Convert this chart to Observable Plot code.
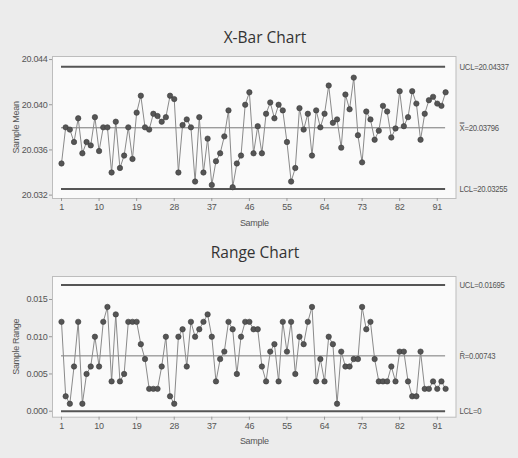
<!DOCTYPE html>
<html><head><meta charset="utf-8">
<script src="https://cdn.jsdelivr.net/npm/d3@7"></script>
<script src="https://cdn.jsdelivr.net/npm/@observablehq/plot@0.6"></script>
<style>
html,body{margin:0;padding:0;background:#ececec;}
#wrap{position:relative;width:518px;height:458px;overflow:hidden;font-family:"Open Sans",sans-serif;color:#444;}
.title{position:absolute;left:0;width:518px;text-align:center;font-size:15.5px;color:#333;z-index:2;}
.panel{position:absolute;left:0;z-index:1;}
</style></head><body>
<div id="wrap">
 <div class="panel" id="p1" style="top:0px"></div>
 <div class="panel" id="p2" style="top:240px"></div>
 <div class="title" style="top:26px;left:6px">X-Bar Chart</div>
 <div class="title" style="top:241px;left:-4px">Range Chart</div>
</div>
<script>
// ---- data ----
const xbarMeans = [
20.0348, 20.0380, 20.0378, 20.0367, 20.0388, 20.0357, 20.0367, 20.0364, 20.0389, 20.0359,
20.0380, 20.0380, 20.0340, 20.0385, 20.0344, 20.0355, 20.0380, 20.0352, 20.0393, 20.0408,
20.0380, 20.0378, 20.0392, 20.0390, 20.0385, 20.0389, 20.0408, 20.0405, 20.0340, 20.0382,
20.0387, 20.0380, 20.0332, 20.0389, 20.0340, 20.0370, 20.0329, 20.0350, 20.0357, 20.0372,
20.0395, 20.0327, 20.0348, 20.0355, 20.0400, 20.0411, 20.0357, 20.0381, 20.0357, 20.0392,
20.0402, 20.0388, 20.0400, 20.0395, 20.0367, 20.0332, 20.0344, 20.0397, 20.0378, 20.0392,
20.0355, 20.0395, 20.0380, 20.0392, 20.0417, 20.0384, 20.0387, 20.0362, 20.0409, 20.0396,
20.0424, 20.0373, 20.0349, 20.0394, 20.0387, 20.0369, 20.0377, 20.0399, 20.0394, 20.0371,
20.0379, 20.0412, 20.0381, 20.0389, 20.0412, 20.0401, 20.0369, 20.0392, 20.0404, 20.0407,
20.0401, 20.0399, 20.0411];
const sampleRanges = [
0.012, 0.002, 0.001, 0.006, 0.012, 0.001, 0.005, 0.006, 0.010, 0.006,
0.012, 0.014, 0.004, 0.013, 0.004, 0.005, 0.012, 0.012, 0.012, 0.009,
0.007, 0.003, 0.003, 0.003, 0.006, 0.010, 0.002, 0.001, 0.010, 0.011,
0.006, 0.012, 0.010, 0.011, 0.012, 0.013, 0.010, 0.004, 0.007, 0.008,
0.012, 0.011, 0.005, 0.010, 0.012, 0.012, 0.011, 0.011, 0.006, 0.004,
0.008, 0.009, 0.004, 0.012, 0.008, 0.012, 0.005, 0.010, 0.009, 0.012,
0.014, 0.004, 0.007, 0.004, 0.010, 0.009, 0.001, 0.008, 0.006, 0.006,
0.007, 0.007, 0.014, 0.011, 0.012, 0.007, 0.004, 0.004, 0.004, 0.006,
0.004, 0.008, 0.008, 0.004, 0.002, 0.002, 0.008, 0.003, 0.003, 0.004,
0.003, 0.004, 0.003];
const xTickValues = [1, 10, 19, 28, 37, 46, 55, 64, 73, 82, 91];
const meanTickValues = [20.032, 20.036, 20.040, 20.044];
const rangeTickValues = [0, 0.005, 0.010, 0.015];
const meanLimits = [
  {name: "UCL", value: 20.04337, label: "UCL=20.04337", kind: "limit"},
  {name: "center", value: 20.03796, label: "X\u033F=20.03796", kind: "center"},
  {name: "LCL", value: 20.03255, label: "LCL=20.03255", kind: "limit"}
];
const rangeLimits = [
  {name: "UCL", value: 0.01695, label: "UCL=0.01695", kind: "limit"},
  {name: "center", value: 0.00743, label: "R\u0304=0.00743", kind: "center"},
  {name: "LCL", value: 0, label: "LCL=0", kind: "limit"}
];

// ---- build ----
const samples = d3.range(1, xbarMeans.length + 1);
const meanData = samples.map((s, i) => ({sample: s, value: xbarMeans[i]}));
const rangeData = samples.map((s, i) => ({sample: s, value: sampleRanges[i]}));
const first = d3.min(samples), last = d3.max(samples);

const tickFont = '"Liberation Sans",Arial,sans-serif';
const xDomain = [-1.156, 95.49];

function panel(data, limits, yDomain, yTicks, yLabel, height, marginTop, marginBottom) {
  return Plot.plot({
    width: 518, height, marginLeft: 52, marginRight: 62.5, marginTop, marginBottom,
    style: {background: "transparent", fontFamily: tickFont, fontSize: "9px", color: "#555", letterSpacing: "-0.3px"},
    x: {domain: xDomain},
    y: {domain: yDomain},
    marks: [
      Plot.frame({fill: "#fafafa", stroke: "#bdbdbd"}),
      Plot.ruleY(limits.filter(d => d.kind === "limit"), {y: "value", x1: first, x2: last, stroke: "#555", strokeWidth: 2}),
      Plot.ruleY(limits.filter(d => d.kind === "center"), {y: "value", x1: first, x2: last, stroke: "#777", strokeWidth: 1}),
      Plot.line(data, {x: "sample", y: "value", stroke: "#8a8a8a", strokeWidth: 1}),
      Plot.dot(data, {x: "sample", y: "value", r: 2.7, fill: "#555", stroke: "#3a3a3a", strokeWidth: 0.6}),
      Plot.text(limits, {y: "value", text: "label", frameAnchor: "right", dx: 3.5, textAnchor: "start", fill: "#555", fontSize: 9}),
      Plot.axisX({ticks: xTickValues, tickSize: 3, tickPadding: 2, stroke: "#999", label: "Sample", labelAnchor: "center", labelOffset: 27, labelArrow: "none"}),
      Plot.axisY({ticks: yTicks, tickFormat: d3.format(".3f"), tickSize: 3, tickPadding: 2, stroke: "#999", label: yLabel, labelAnchor: "center", labelOffset: 40, labelArrow: "none"})
    ]
  });
}

function condense(svg, labels) {
  document.body.appendChild(svg);
  d3.select(svg).selectAll("text").each(function() {
    if (labels.includes(this.textContent)) {
      const w = this.getComputedTextLength();
      this.setAttribute("textLength", (w * 0.86).toFixed(1));
      this.setAttribute("lengthAdjust", "spacingAndGlyphs");
    }
  });
  return svg;
}

const s1 = panel(meanData, meanLimits, [20.03170, 20.04427], meanTickValues, "Sample Mean", 240, 56, 42);
const s2 = panel(rangeData, rangeLimits, [-0.000806, 0.018088], rangeTickValues, "Sample Range", 218, 36, 41.3);
document.getElementById("p1").append(condense(s1, meanLimits.map(d => d.label)));
document.getElementById("p2").append(condense(s2, rangeLimits.map(d => d.label)));
</script>
</body></html>
